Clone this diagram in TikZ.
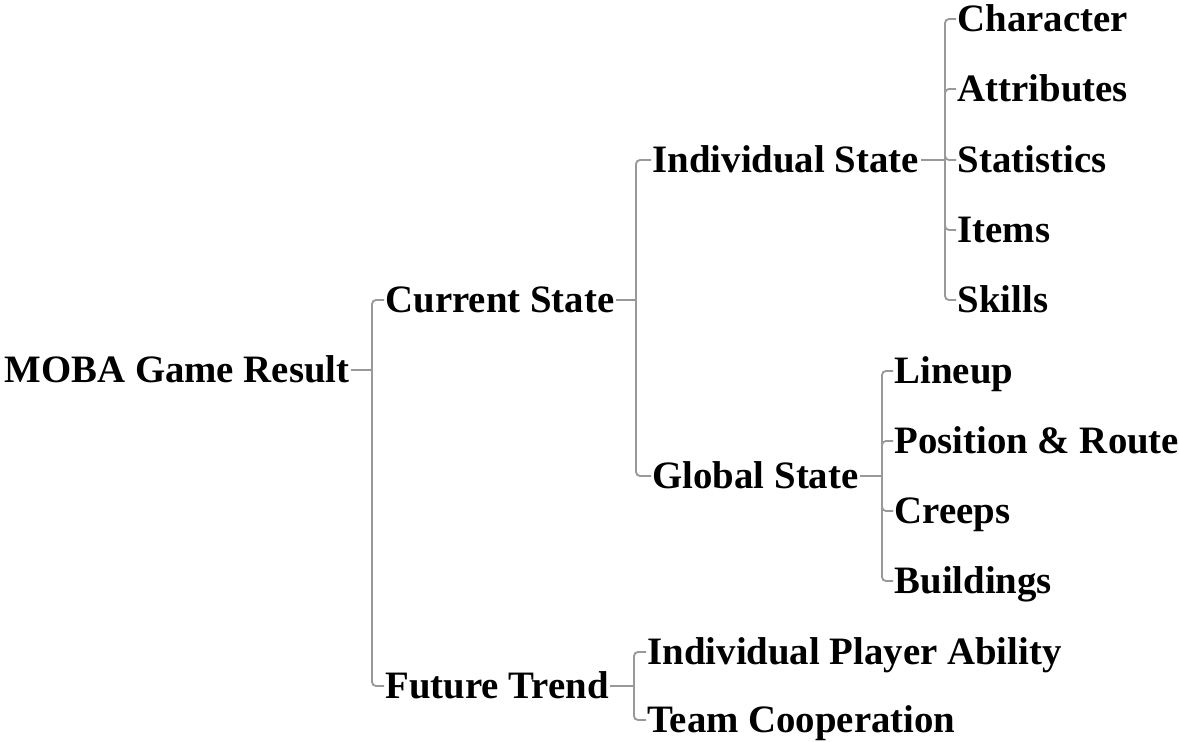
\documentclass[tikz,border=0pt]{standalone}
\usepackage{fontspec}
\setmainfont{Liberation Serif}
\begin{document}
\begin{tikzpicture}[x=0.75pt,y=-0.75pt,
  lbl/.style={anchor=west,inner xsep=1pt,inner ysep=0pt,text height=19.2pt,text depth=0pt,
    font=\fontsize{29.1}{31}\selectfont\bfseries},
  conn/.style={draw=black!40,line width=1.4pt,rounded corners=3pt}]
\useasboundingbox (0,0) rectangle (1179,742);
\node[lbl] (root) at (3,370) {MOBA Game Result};
\node[lbl] (cur) at (384,300) {Current State};
\node[lbl] (fut) at (384,686) {Future Trend};
\node[lbl] (ind) at (651,160) {Individual State};
\node[lbl] (glo) at (651,476) {Global State};
\node[lbl] (c1) at (956,19) {Character};
\node[lbl] (c2) at (956,89) {Attributes};
\node[lbl] (c3) at (956,160) {Statistics};
\node[lbl] (c4) at (956,230) {Items};
\node[lbl] (c5) at (956,300) {Skills};
\node[lbl] (g1) at (893,371) {Lineup};
\node[lbl] (g2) at (893,441) {Position \& Route};
\node[lbl] (g3) at (893,511) {Creeps};
\node[lbl] (g4) at (893,581) {Buildings};
\node[lbl] (f1) at (646,652) {Individual Player Ability};
\node[lbl] (f2) at (646,720) {Team Cooperation};
\coordinate (jr) at (372,370);
\coordinate (jc) at (636,300);
\coordinate (ji) at (945,160);
\coordinate (jg) at (882,476);
\coordinate (jf) at (634,686);
\draw[conn] (root.east) -- (jr);
\draw[conn] (jr) |- (cur.west);
\draw[conn] (jr) |- (fut.west);
\draw[conn] (cur.east) -- (jc);
\draw[conn] (jc) |- (ind.west);
\draw[conn] (jc) |- (glo.west);
\draw[conn] (ind.east) -- (ji);
\foreach \n in {c1,c2,c3,c4,c5} \draw[conn] (ji) |- (\n.west);
\draw[conn] (glo.east) -- (jg);
\foreach \n in {g1,g2,g3,g4} \draw[conn] (jg) |- (\n.west);
\draw[conn] (fut.east) -- (jf);
\draw[conn] (jf) |- (f1.west);
\draw[conn] (jf) |- (f2.west);
\end{tikzpicture}
\end{document}
